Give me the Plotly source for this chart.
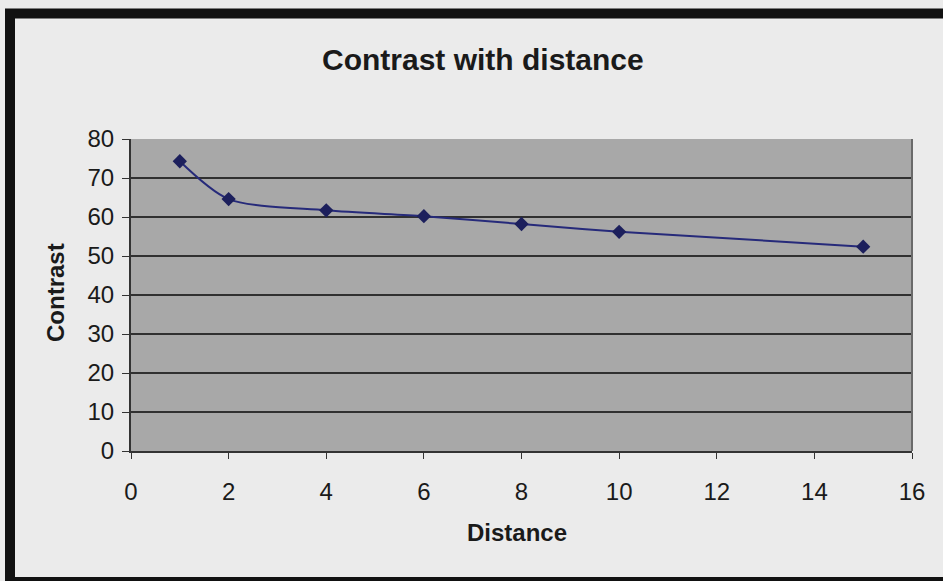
import plotly.graph_objects as go

distance = [1, 2, 4, 6, 8, 10, 15]
contrast = [74.3, 64.6, 61.7, 60.2, 58.2, 56.2, 52.4]
x_ticks = [0, 2, 4, 6, 8, 10, 12, 14, 16]
y_ticks = [0, 10, 20, 30, 40, 50, 60, 70, 80]

L, R, T, B = 131, 31, 139, 130
W, H = 943, 581
pw, ph = W - L - R, H - T - B

def px(xp):
    return (xp - L) / pw

def py(yp):
    return (H - B - yp) / ph

fig = go.Figure()
fig.add_trace(go.Scatter(
    x=distance, y=contrast, mode="lines+markers",
    line=dict(color="#262a7a", width=2, shape="spline", smoothing=0.8),
    marker=dict(symbol="diamond", size=11, color="#1c1f5c"),
    showlegend=False,
))

font = "Liberation Sans, Arial, sans-serif"
fig.update_layout(
    width=W, height=H,
    margin=dict(l=L, r=R, t=T, b=B),
    paper_bgcolor="#ebebeb",
    plot_bgcolor="#a8a8a8",
    font=dict(family=font, size=24, color="#1a1a1a"),
    xaxis=dict(range=[0, 16], tickvals=x_ticks, showgrid=False, zeroline=False,
               showline=True, linecolor="#333333", linewidth=2,
               ticks="outside", ticklen=6, tickcolor="#333333", ticklabelstandoff=12,
               tickfont=dict(size=24, color="#1a1a1a"), fixedrange=True),
    yaxis=dict(range=[0, 80], tickvals=y_ticks, showgrid=True, gridcolor="#303030",
               gridwidth=2, zeroline=False, showline=True, linecolor="#333333",
               linewidth=2, ticks="outside", ticklen=7, tickcolor="#333333", ticklabelstandoff=3,
               tickfont=dict(size=24, color="#1a1a1a"), fixedrange=True),
    annotations=[
        dict(text="<b>Contrast with distance</b>", x=px(483), y=py(59), xref="paper", yref="paper",
             showarrow=False, font=dict(size=30, family=font, color="#1a1a1a"),
             xanchor="center", yanchor="middle"),
        dict(text="<b>Distance</b>", x=px(517), y=py(532), xref="paper", yref="paper",
             showarrow=False, font=dict(size=24, family=font, color="#1a1a1a"),
             xanchor="center", yanchor="middle"),
        dict(text="<b>Contrast</b>", x=px(55), y=py(293), xref="paper", yref="paper",
             showarrow=False, textangle=-90, font=dict(size=24, family=font, color="#1a1a1a"),
             xanchor="center", yanchor="middle"),
    ],
    shapes=[
        dict(type="rect", xref="paper", yref="paper", x0=px(10), x1=px(960), y0=py(13.5), y1=py(582),
             line=dict(color="#111111", width=10), fillcolor="rgba(0,0,0,0)", layer="above"),
        dict(type="line", xref="paper", yref="paper", x0=1, x1=1, y0=0, y1=1,
             line=dict(color="#6a6a6a", width=2)),
    ],
)

fig.write_html("out.html")
